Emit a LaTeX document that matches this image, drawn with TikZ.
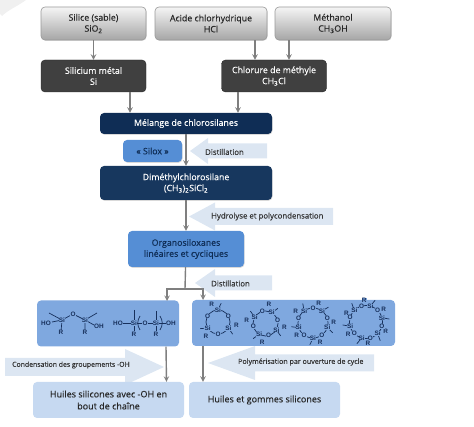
\documentclass[tikz,border=0pt]{standalone}
\usepackage{fontspec}
\setmainfont{Open Sans}[UprightFeatures={FakeBold=0.25}]
\newfontfamily\molfont{Liberation Sans}
\usetikzlibrary{shadows, arrows}

\definecolor{navyA}{HTML}{0F2D55}
\definecolor{navyB}{HTML}{17375E}
\definecolor{midblue}{HTML}{558ED5}
\definecolor{molblue}{HTML}{7FA8DF}
\definecolor{paleblue}{HTML}{C6D9F1}
\definecolor{hintblue}{HTML}{DCE6F2}
\definecolor{inkblue}{HTML}{17305C}
\definecolor{lineA}{HTML}{7F7F7F}

% one ring: centre x, centre y, radius, number of Si, start angle
\newcommand{\sxring}[5]{
  \draw[inkblue, line width=0.7pt] (#1,#2) circle [radius=#3];
  \foreach \k in {1,...,#4} {
    \pgfmathsetmacro{\angSi}{#5+(\k-1)*360/#4}
    \pgfmathsetmacro{\angO}{\angSi+180/#4}
    \pgfmathsetmacro{\angR}{\angSi+20}
    \pgfmathsetmacro{\angT}{\angSi-25}
    \pgfmathsetmacro{\distR}{11+0.65*#3}
    \draw[inkblue, line width=0.7pt] (#1,#2) ++(-\angSi:#3) -- ++(-\angT:7.5);
    \node[atom] at ([shift={(-\angR:\distR)}]#1,#2) {R};
    \node[atom] at ([shift={(-\angSi:#3)}]#1,#2) {Si};
    \node[atom] at ([shift={(-\angO:#3)}]#1,#2) {O};
  }
}

\begin{document}
\begin{tikzpicture}[
    x=1pt, y=-1pt,
    box/.style={rectangle, rounded corners=4pt, align=center, font=\fontsize{8.8}{11}\selectfont},
    source/.style={box, draw=gray!80, line width=0.6pt, top color=gray!8, bottom color=gray!70, text=black!85,
        minimum width=#1, minimum height=33pt, drop shadow={shadow xshift=0.5pt, shadow yshift=-0.8pt, opacity=0.3}},
    metal/.style={box, draw=black!85, fill=black!75, text=white!90, minimum width=105pt, minimum height=32pt},
    silane/.style={box, fill=#1, text=white!92, minimum width=172pt, drop shadow={shadow xshift=0.5pt, shadow yshift=-0.8pt, opacity=0.3}},
    siloxane/.style={box, fill=midblue, text=navyA, drop shadow={shadow xshift=0.5pt, shadow yshift=-0.8pt, opacity=0.3}},
    panel/.style={box, fill=molblue, minimum height=46pt},
    oil/.style={box, fill=paleblue, text=black!85, minimum width=151pt, minimum height=36pt, font=\fontsize{9}{12}\selectfont},
    hint/.style={font=\fontsize{7.8}{9}\selectfont, text=black!80, inner sep=0pt},
    atom/.style={font=\molfont\bfseries\fontsize{6.4}{7}\selectfont, text=inkblue, fill=molblue, inner sep=0.2pt},
    flow/.style={-stealth, line width=1.4pt, color=lineA}
]
\useasboundingbox (0,0) rectangle (474,427);

% corner mark of the scan
\fill[gray!12] (0,0) -- (26,0) .. controls (18,6) and (8,10) .. (2,16) -- (0,14) -- cycle;

% pale arrows behind the flow
\foreach \tipx/\basex/\endx/\midy/\headh/\shafth in {
    190/208/267/151/13/7.5,
    189/215/333/216.5/14/8.5,
    195/215/272/283/14/7.5,
    164/125/5/367/18/9,
    208/255/374/363/17/8.5} {
  \fill[hintblue] (\tipx,\midy) -- (\basex,\midy-\headh) -- (\basex,\midy-\shafth) -- (\endx,\midy-\shafth)
      -- (\endx,\midy+\shafth) -- (\basex,\midy+\shafth) -- (\basex,\midy+\headh) -- cycle;
}

\node[source=105pt] (silice) at (93.5,23.5) {Silice (sable)\\SiO\textsubscript{2}};
\node[source=112pt] (acide) at (211,23.5) {Acide chlorhydrique\\HCl};
\node[source=116pt] (methanol) at (333,23.5) {Méthanol\\CH\textsubscript{3}OH};
\node[metal] (silicium) at (93.5,76) {Silicium métal\\Si};
\node[metal] (chlorure) at (274,76) {Chlorure de méthyle\\CH\textsubscript{3}Cl};
\node[silane=navyA, minimum height=21pt] (melange) at (186,123.5) {Mélange de chlorosilanes};
\node[siloxane, minimum width=59pt, minimum height=22pt] (silox) at (152.5,151) {« Silox »};
\node[silane=navyB, minimum height=34pt] (dimethyl) at (186,183) {Diméthylchlorosilane\\(CH\textsubscript{3})\textsubscript{2}SiCl\textsubscript{2}};
\node[siloxane, minimum width=116pt, minimum height=36pt] (organo) at (186,249) {Organosiloxanes\\linéaires et cycliques};
\node[panel, minimum width=142pt] (molleft) at (108,323.5) {};
\node[panel, minimum width=203pt] (molright) at (293.5,323) {};
\node[oil] (huileoh) at (108.5,400) {Huiles silicones avec -OH en\\bout de chaîne};
\node[oil] (huilegomme) at (264.5,400) {Huiles et gommes silicones};

\node[hint, anchor=west] (distA) at (205,152) {Distillation};
\node[hint, anchor=west] (hydro) at (211,216.5) {Hydrolyse et polycondensation};
\node[hint, anchor=west] (distB) at (211,283.5) {Distillation};
\node[hint, anchor=west, font=\fontsize{6.9}{8}\selectfont] (conden) at (12,365) {Condensation des groupements -OH};
\node[hint, anchor=west, font=\fontsize{7.1}{8}\selectfont] (polym) at (238,362) {Polymérisation par ouverture de cycle};

\coordinate (fork) at (185,289);
\coordinate (forkleft) at (167,301);
\coordinate (forkright) at (203,300);

\draw[flow] (silice) -- (silicium);
\draw[flow] ([xshift=44pt]acide.south) -- ([xshift=-19pt]chlorure.north);
\draw[flow] ([xshift=-44pt]methanol.south) -- ([xshift=15pt]chlorure.north);
\draw[flow] ([xshift=36.5pt]silicium.south) -- ([xshift=-56pt]melange.north);
\draw[flow] ([xshift=-36pt]chlorure.south) -- ([xshift=52pt]melange.north);
\draw[flow] (melange) -- (dimethyl);
\draw[flow] (dimethyl) -- (organo);
\draw[line width=1.4pt, color=lineA] (organo) -- (fork);
\draw[flow] (fork) -| (forkleft);
\draw[flow] (fork) -| (forkright);
\draw[flow] ([xshift=58pt]molleft.south) -- ([xshift=58pt]huileoh.north);
\draw[flow] ([xshift=-90.5pt]molright.south) -- ([xshift=-61.5pt]huilegomme.north);

% linear chains
\draw[inkblue, line width=0.7pt] (52,322) -- (62,320) -- (73,314) -- (85,320) -- (94,325);
\draw[inkblue, line width=0.7pt] (49,313) -- (62,320) -- (61,332) (97,313) -- (85,320) -- (85,332);
\node[atom] at (46,323.5) {HO};
\node[atom] at (62,320) {Si};
\node[atom] at (73,314) {O};
\node[atom] at (85,320) {Si};
\node[atom] at (99,326) {OH};
\node[atom] at (61,332.5) {R};
\node[atom] at (85,332.5) {R};
\draw[inkblue, line width=0.7pt] (123,323) -- (166,323) (134,310) -- (134,331) (156,311) -- (156,331);
\draw[inkblue, line width=0.7pt] (140,316) .. controls (137,321) and (137,325) .. (140,330);
\draw[inkblue, line width=0.7pt] (160,316) .. controls (163,321) and (163,325) .. (160,330);
\node[atom] at (118,323) {HO};
\node[atom] at (134,323) {Si};
\node[atom] at (145,323) {O};
\node[atom] at (156,323) {Si};
\node[atom] at (171,323) {OH};
\node[atom] at (134,334) {R};
\node[atom] at (156,334) {R};

% rings
\sxring{218}{322}{12}{3}{-150}
\sxring{265.5}{323.5}{12.5}{4}{-120}
\sxring{313}{323}{15}{5}{-90}
\sxring{366}{322}{16.5}{6}{-105}
\end{tikzpicture}
\end{document}
